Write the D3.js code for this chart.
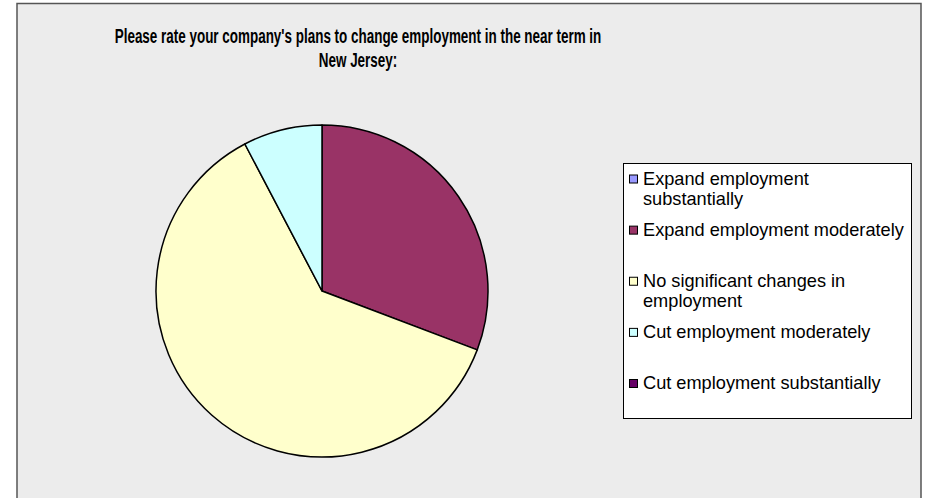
<!DOCTYPE html>
<html>
<head>
<meta charset="utf-8">
<script src="https://cdn.jsdelivr.net/npm/d3@7"></script>
<style>
  html, body { margin: 0; padding: 0; background: #ffffff; }
  svg { display: block; }
</style>
</head>
<body>
<svg id="chart" width="926" height="498"></svg>
<script>
const titleLines = ["Please rate your company's plans to change employment in the near term in", "New Jersey:"];
const categories = [
  "Expand employment substantially",
  "Expand employment moderately",
  "No significant changes in employment",
  "Cut employment moderately",
  "Cut employment substantially"
];
const legendLines = [
  ["Expand employment", "substantially"],
  ["Expand employment moderately"],
  ["No significant changes in", "employment"],
  ["Cut employment moderately"],
  ["Cut employment substantially"]
];
const values = [0, 4, 8, 1, 0];
const colors = ["#9999ff", "#993366", "#ffffcc", "#ccffff", "#660066"];

const svg = d3.select("#chart");

// chart area
svg.append("rect")
  .attr("x", 17).attr("y", 3.5)
  .attr("width", 904).attr("height", 510)
  .attr("fill", "#ececec")
  .attr("stroke", "#555").attr("stroke-width", 1.5);

// title (condensed sans: compress horizontally so line 1 spans ~487px)
const titleG = svg.append("g").attr("transform", "translate(358,0)");
const title = titleG.append("text")
  .attr("text-anchor", "middle")
  .attr("font-family", "'Liberation Sans Narrow', 'Arial Narrow', 'Liberation Sans', Arial, sans-serif")
  .attr("font-weight", "bold")
  .attr("font-size", 20)
  .attr("fill", "#000");
const tspans = titleLines.map((t, i) =>
  title.append("tspan").attr("x", 0).attr("y", 43.5 + i * 24).text(t));
const w0 = tspans[0].node().getComputedTextLength();
const sx = w0 > 0 ? 487 / w0 : 1;
titleG.attr("transform", `translate(358,0) scale(${sx},1)`);

// pie
const cx = 322, cy = 291, r = 166;
const pie = d3.pie().sort(null).value(d => d)(values);
const arc = d3.arc().innerRadius(0).outerRadius(r);
const color = d3.scaleOrdinal().domain(categories).range(colors);
svg.append("g")
  .attr("transform", `translate(${cx},${cy})`)
  .selectAll("path")
  .data(pie.filter(d => d.value > 0))
  .join("path")
  .attr("d", arc)
  .attr("fill", d => color(categories[d.index]))
  .attr("stroke", "#000")
  .attr("stroke-width", 1.5)
  .attr("stroke-linejoin", "round");

// legend
const lx = 623, ly = 163, lw = 288, lh = 255;
svg.append("rect")
  .attr("x", lx + 0.5).attr("y", ly + 0.5)
  .attr("width", lw).attr("height", lh)
  .attr("fill", "#fff").attr("stroke", "#000").attr("stroke-width", 1);

const ly0 = d3.scaleLinear().domain([0, categories.length - 1]).range([184.5, 389]);
const lg = svg.append("g")
  .attr("font-family", "'Liberation Sans', Arial, Helvetica, sans-serif")
  .attr("font-size", 18.2)
  .attr("fill", "#000");
categories.forEach((c, i) => {
  const by = ly0(i);
  lg.append("rect")
    .attr("x", 629.5).attr("y", by - 9.5)
    .attr("width", 8).attr("height", 8)
    .attr("fill", color(c))
    .attr("stroke", "#000").attr("stroke-width", 1);
  const t = lg.append("text");
  legendLines[i].forEach((line, j) => {
    t.append("tspan").attr("x", 643).attr("y", by + j * 20.7).text(line);
  });
});
</script>
</body>
</html>
